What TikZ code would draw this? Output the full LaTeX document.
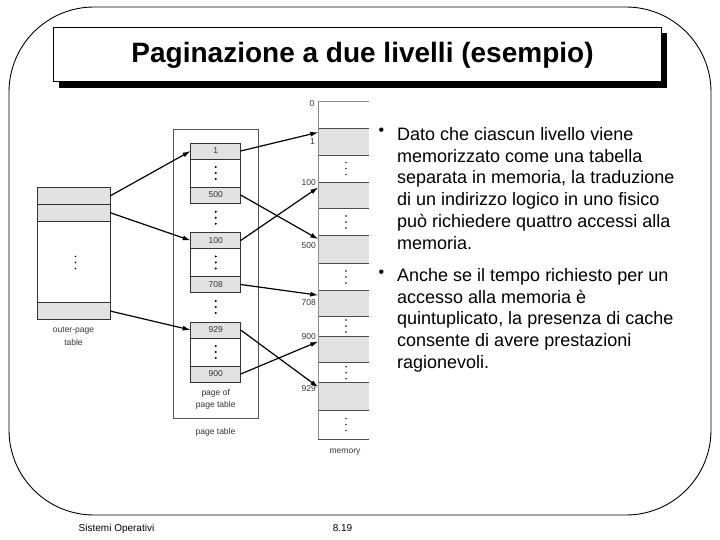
\documentclass[tikz,border=0pt]{standalone}
\usepackage{fontspec}
\setmainfont{Liberation Sans}
\usetikzlibrary{arrows.meta,calc}
\definecolor{cellgray}{HTML}{E2E2E2}
\definecolor{linegray}{HTML}{555555}
\definecolor{labgray}{HTML}{333333}
\newcommand\threedots[3]{\foreach \k in {-6,0,6} \fill ({#1},{#2+\k}) circle (#3);}
\begin{document}
\begin{tikzpicture}[x=1pt,y=-1pt,
  tab/.style={draw=black!80, line width=0.7pt, inner sep=0pt, outer sep=0pt, anchor=north west,
    font=\fontsize{8.5}{10}\selectfont, text=labgray},
  full/.style={fill=cellgray},
  mem/.style={inner sep=0pt, outer sep=0pt, anchor=north west, minimum width=50.7pt},
  memline/.style={draw=black!70, line width=0.7pt},
  lab/.style={font=\fontsize{8.5}{12}\selectfont, text=labgray, inner sep=0pt, align=center},
  addr/.style={font=\fontsize{8.5}{10}\selectfont, text=labgray, inner sep=0pt, anchor=east},
  arr/.style={-{Latex[length=8pt,width=5pt]}, line width=1.2pt, black},
  body/.style={anchor=north west, inner sep=0pt, align=left, font=\fontsize{18}{21.8}\selectfont},
  bul/.style={inner sep=0pt, anchor=base, font=\fontsize{16}{16}\selectfont},
  foot/.style={font=\fontsize{10}{12}\selectfont, inner sep=0pt, anchor=base}
]
\useasboundingbox (0,0) rectangle (720,540);
% frame
\draw[line width=0.9pt, rounded corners=85pt] (9,7) rectangle (711,515);
% title
\fill (59.3,33.3) rectangle (666.7,87.7);
\node[draw, fill=white, line width=0.8pt, inner sep=0pt, anchor=north west,
  minimum width=607.4pt, minimum height=53.7pt] (titlebox) at (53.3,27.3) {};
\node[font=\bfseries\fontsize{28}{30}\selectfont, inner sep=0pt] (titletext) at (362.5,55) {Paginazione a due livelli (esempio)};

% outer page table
\node[tab,full,minimum width=73pt,minimum height=16.6pt] (o1) at (37,187.7) {};
\node[tab,full,minimum width=73pt,minimum height=16.7pt] (o2) at (37,204.3) {};
\node[tab,minimum width=73pt,minimum height=81.7pt] (om) at (37,221) {};
\node[tab,full,minimum width=73pt,minimum height=16.6pt] (o3) at (37,302.7) {};
\threedots{75.5}{262.5}{0.9pt}
\node[lab, font=\fontsize{8.5}{13}\selectfont] (olab) at (73.5,336.5) {outer-page\\table};

% page table
\node[draw=linegray, line width=0.7pt, inner sep=0pt, anchor=north west,
  minimum width=85.6pt, minimum height=288.4pt] (pt) at (172.7,129.3) {};
\node[lab] (ptlab) at (215.5,432) {page table};

\node[tab,full,minimum width=50pt,minimum height=16pt] (p1) at (190.7,143) {1};
\node[tab,minimum width=50pt,minimum height=28pt] (b1m) at (190.7,159) {};
\node[tab,full,minimum width=50pt,minimum height=16pt] (p500) at (190.7,187) {500};

\node[tab,full,minimum width=50pt,minimum height=16pt] (p100) at (190.7,232.5) {100};
\node[tab,minimum width=50pt,minimum height=28pt] (b2m) at (190.7,248.5) {};
\node[tab,full,minimum width=50pt,minimum height=16pt] (p708) at (190.7,276.5) {708};

\node[tab,full,minimum width=50pt,minimum height=16pt] (p929) at (190.7,322) {929};
\node[tab,minimum width=50pt,minimum height=28pt] (b3m) at (190.7,338) {};
\node[tab,full,minimum width=50pt,minimum height=16pt] (p900) at (190.7,366) {900};

\threedots{215.7}{173}{1.1pt}
\threedots{215.7}{217.7}{1.1pt}
\threedots{215.7}{262.5}{1.1pt}
\threedots{215.7}{307}{1.1pt}
\threedots{215.7}{352}{1.1pt}
\node[lab] (poflab) at (215.7,399) {page of\\page table};

% memory
\node[mem,minimum height=27.3pt] (m0) at (318.3,101) {};
\node[mem,full,minimum height=26.7pt] (m1) at (318.3,128.3) {};
\node[mem,minimum height=27.3pt] (d1) at (318.3,155) {};
\node[mem,full,minimum height=26pt] (m100) at (318.3,182.3) {};
\node[mem,minimum height=27.4pt] (d2) at (318.3,208.3) {};
\node[mem,full,minimum height=27.6pt] (m500) at (318.3,235.7) {};
\node[mem,minimum height=27.4pt] (d3) at (318.3,263.3) {};
\node[mem,full,minimum height=25.3pt] (m708) at (318.3,290.7) {};
\node[mem,minimum height=20pt] (d4) at (318.3,316) {};
\node[mem,full,minimum height=26.7pt] (m900) at (318.3,336) {};
\node[mem,minimum height=20pt] (d5) at (318.3,362.7) {};
\node[mem,full,minimum height=27.3pt] (m929) at (318.3,382.7) {};
\node[mem,minimum height=29.3pt] (d6) at (318.3,410) {};
\draw[draw=black!45, line width=0.8pt] (m0.north west) -- (m0.north east);
\foreach \n in {m1,d1,m100,d2,m500,d3,m708,d4,m900,d5,m929,d6}
  \draw[memline] (\n.north west) -- (\n.north east);
\draw[memline] (d6.south west) -- (d6.south east);
\draw[draw=black!45, line width=0.8pt] (m0.north west) -- (d6.south west);
\threedots{346}{168.6}{0.8pt}
\threedots{346}{222}{0.8pt}
\threedots{346}{277}{0.8pt}
\threedots{346}{326}{0.8pt}
\threedots{346}{372.7}{0.8pt}
\threedots{346}{424.6}{0.8pt}
\node[lab] (memlab) at (345,452) {memory};

\node[addr] (a0) at (314.5,104) {0};
\node[addr] (a1) at (315,142) {1};
\node[addr] (a100) at (316,183) {100};
\node[addr] (a500) at (316,246) {500};
\node[addr] (a708) at (316,303) {708};
\node[addr] (a900) at (316,337) {900};
\node[addr] (a929) at (316,389) {929};

% arrows
\draw[arr] (o1.east) -- (p1.west);
\draw[arr] (o2.east) -- (p100.west);
\draw[arr] (o3.east) -- (p929.west);
\draw[arr] (p1.east) -- ($(m1.north west)+(0,4)$);
\draw[arr] (p500.east) -- ($(m500.north west)+(0,3.5)$);
\draw[arr] (p100.east) -- ($(m100.north west)+(0,5)$);
\draw[arr] (p708.east) -- ($(m708.north west)+(0,4.5)$);
\draw[arr] (p929.east) -- ($(m929.north west)+(0,4.5)$);
\draw[arr] (p900.east) -- ($(m900.north west)+(0,5.5)$);

% text
\node[bul] (b1) at (381.3,136) {•};
\node[body] (t1) at (397,127) {Dato che ciascun livello viene\\memorizzato come una tabella\\separata in memoria, la traduzione\\di un indirizzo logico in uno fisico\\può richiedere quattro accessi alla\\memoria.};
\node[bul] (b2) at (381.3,277) {•};
\node[body] (t2) at (397,268) {Anche se il tempo richiesto per un\\accesso alla memoria è\\quintuplicato, la presenza di cache\\consente di avere prestazioni\\ragionevoli.};

% footer
\node[foot] (f1) at (116.5,531) {Sistemi Operativi};
\node[foot] (f2) at (342.5,531) {8.19};
\end{tikzpicture}
\end{document}
